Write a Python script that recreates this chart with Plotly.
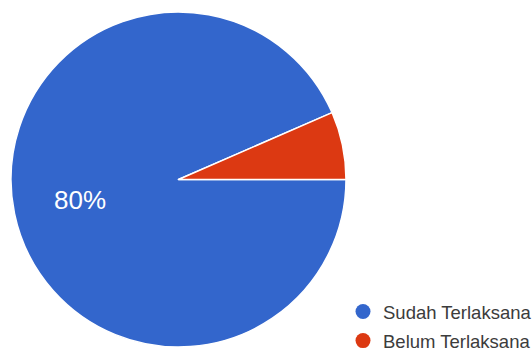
import math
import plotly.graph_objects as go

# Survey responses on implementation status
categories = ["Sudah Terlaksana", "Belum Terlaksana"]
values = [80, 5.6]
colors = ["#3366CC", "#DC3912"]

W, H = 532, 353
# pie placement (pixels)
cx, cy, r = 178.5, 179.5, 167.5
start_deg = 90  # first slice begins at 3 o'clock, running clockwise

fig = go.Figure()

fig.add_trace(go.Pie(
    labels=categories,
    values=values,
    sort=False,
    direction="clockwise",
    rotation=start_deg,
    marker=dict(colors=colors, line=dict(color="white", width=1.5)),
    textinfo="none",
    domain=dict(x=[(cx - r) / W, (cx + r) / W], y=[1 - (cy + r) / H, 1 - (cy - r) / H]),
    showlegend=False,
    hoverinfo="label+percent",
))

# Percentage label placed along the bisector of the first slice
total = sum(values)
mid = math.radians(start_deg + 360 * values[0] / total / 2)
lx = cx + 0.6 * r * math.sin(mid)
ly = cy - 0.6 * r * math.cos(mid)
fig.add_annotation(
    x=lx / W, y=1 - ly / H, xref="paper", yref="paper",
    xanchor="center", yanchor="middle",
    text=f"{values[0]:g}%", showarrow=False,
    font=dict(family="Arial, Liberation Sans, sans-serif", size=26, color="white"),
)

# Legend entries drawn as round markers
for i, (name, col) in enumerate(zip(categories, colors)):
    fig.add_trace(go.Scatter(
        x=[None], y=[None], mode="markers", name=name,
        marker=dict(symbol="circle", size=15, color=col),
        legendgroup=f"g{i}",
    ))

fig.update_layout(
    width=W, height=H,
    margin=dict(l=0, r=0, t=0, b=0, autoexpand=False),
    paper_bgcolor="white", plot_bgcolor="white",
    xaxis=dict(visible=False), yaxis=dict(visible=False),
    legend=dict(
        x=343 / W, xanchor="left", y=-7 / H, yanchor="bottom",
        font=dict(family="Arial, Liberation Sans, sans-serif", size=18.5, color="#3c3c3c"),
        traceorder="grouped", tracegroupgap=2,
        bgcolor="rgba(0,0,0,0)",
    ),
)

fig.write_html("out.html")
